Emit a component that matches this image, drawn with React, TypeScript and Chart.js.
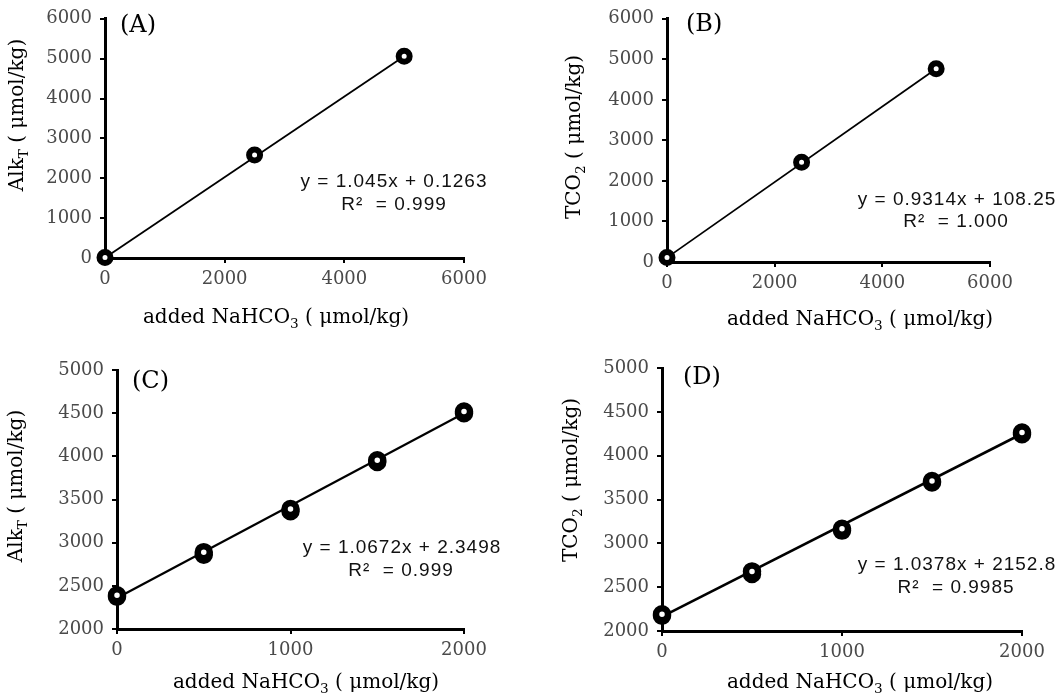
import React, { useEffect, useRef } from 'react';
import { Chart, registerables } from 'chart.js';
Chart.register(...registerables);

// ---------- DATA ----------
// Panel A: AlkT vs added NaHCO3
const xA = [0, 2500, 5000];
const yA = [15, 2585, 5060];
const trendXA = [0, 5000];
const trendYA = [5, 5060];
const eqA = 'y = 1.045x + 0.1263';
const r2A = 'R²  = 0.999';

// Panel B: TCO2 vs added NaHCO3
const xB = [0, 2500, 5000];
const yB = [110, 2460, 4765];
const trendXB = [0, 5000];
const trendYB = [108, 4765];
const eqB = 'y = 0.9314x + 108.25';
const r2B = 'R²  = 1.000';

// Panel C: AlkT vs added NaHCO3 (replicates)
const xC = [0, 0, 500, 500, 1000, 1000, 1500, 1500, 2000, 2000];
const yC = [2375, 2390, 2860, 2890, 3365, 3390, 3935, 3955, 4500, 4520];
const trendXC = [0, 2000];
const trendYC = [2360, 4500];
const eqC = 'y = 1.0672x + 2.3498';
const r2C = 'R²  = 0.999';

// Panel D: TCO2 vs added NaHCO3 (replicates)
const xD = [0, 0, 500, 500, 1000, 1000, 1500, 1500, 2000, 2000];
const yD = [2175, 2190, 2650, 2680, 3145, 3165, 3695, 3710, 4245, 4265];
const trendXD = [0, 2000];
const trendYD = [2165, 4250];
const eqD = 'y = 1.0378x + 2152.8';
const r2D = 'R²  = 0.9985';

// Tick labels
const xTicksAB = [0, 2000, 4000, 6000];
const yTicksAB = [0, 1000, 2000, 3000, 4000, 5000, 6000];
const xTicksCD = [0, 1000, 2000];
const yTicksCD = [2000, 2500, 3000, 3500, 4000, 4500, 5000];

// Text labels
const panelLabels = ['(A)', '(B)', '(C)', '(D)'];
const xTitleParts = [{ t: 'added NaHCO' }, { t: '3', sub: true }, { t: ' ( μmol/kg)' }];
const yTitleAlk = [{ t: 'Alk' }, { t: 'T', sub: true }, { t: ' ( μmol/kg)' }];
const yTitleTCO = [{ t: 'TCO' }, { t: '2', sub: true }, { t: ' ( μmol/kg)' }];

// ---------- LAYOUT (page coordinates) ----------
type Part = { t: string; sub?: boolean };
type Panel = {
  canvas: { left: number; top: number; w: number; h: number };
  area: { l: number; r: number; t: number; b: number };
  x: number[]; y: number[]; tx: number[]; ty: number[];
  xTicks: number[]; yTicks: number[];
  label: string; eq: string; r2: string; yTitle: Part[];
  pos: { yT: [number, number]; xT: [number, number]; lab: [number, number]; eq: [number, number]; r2: [number, number] };
  radius: number; pbw: number; lw: number;
};

const panels: Panel[] = [
  {
    canvas: { left: 0, top: 0, w: 525, h: 342 },
    area: { l: 105, r: 464, t: 14, b: 258 },
    x: xA, y: yA, tx: trendXA, ty: trendYA, xTicks: xTicksAB, yTicks: yTicksAB,
    label: panelLabels[0], eq: eqA, r2: r2A, yTitle: yTitleAlk,
    pos: { yT: [18, 115], xT: [276, 318], lab: [120, 26], eq: [394, 182], r2: [394, 205] },
    radius: 5.5, pbw: 6, lw: 1.8,
  },
  {
    canvas: { left: 525, top: 0, w: 535, h: 342 },
    area: { l: 667, r: 990, t: 16, b: 262 },
    x: xB, y: yB, tx: trendXB, ty: trendYB, xTicks: xTicksAB, yTicks: yTicksAB,
    label: panelLabels[1], eq: eqB, r2: r2B, yTitle: yTitleTCO,
    pos: { yT: [575, 137], xT: [860, 320], lab: [686, 25], eq: [957, 200], r2: [956, 222] },
    radius: 5.5, pbw: 6, lw: 1.8,
  },
  {
    canvas: { left: 0, top: 342, w: 525, h: 357 },
    area: { l: 117, r: 464, t: 370, b: 629 },
    x: xC, y: yC, tx: trendXC, ty: trendYC, xTicks: xTicksCD, yTicks: yTicksCD,
    label: panelLabels[2], eq: eqC, r2: r2C, yTitle: yTitleAlk,
    pos: { yT: [17, 486], xT: [306, 683], lab: [132, 382], eq: [402, 548], r2: [401, 571] },
    radius: 6, pbw: 6.5, lw: 2.2,
  },
  {
    canvas: { left: 525, top: 342, w: 535, h: 357 },
    area: { l: 662, r: 1022, t: 368, b: 631 },
    x: xD, y: yD, tx: trendXD, ty: trendYD, xTicks: xTicksCD, yTicks: yTicksCD,
    label: panelLabels[3], eq: eqD, r2: r2D, yTitle: yTitleTCO,
    pos: { yT: [572, 480], xT: [860, 683], lab: [683, 378], eq: [957, 565], r2: [956, 588] },
    radius: 6, pbw: 6.5, lw: 2.6,
  },
];

const SERIF = '"DejaVu Serif", serif';
const SANS = '"Liberation Sans", Arial, sans-serif';

function drawRich(ctx: CanvasRenderingContext2D, parts: Part[], x: number, y: number, size: number, rotate: boolean) {
  ctx.save();
  ctx.translate(x, y);
  if (rotate) ctx.rotate(-Math.PI / 2);
  ctx.textBaseline = 'middle';
  ctx.textAlign = 'left';
  ctx.fillStyle = '#000';
  const widths = parts.map((p) => {
    ctx.font = `${p.sub ? size * 0.68 : size}px ${SERIF}`;
    return ctx.measureText(p.t).width;
  });
  const total = widths.reduce((a, b) => a + b, 0);
  let cx = -total / 2;
  parts.forEach((p, i) => {
    ctx.font = `${p.sub ? size * 0.68 : size}px ${SERIF}`;
    ctx.fillText(p.t, cx, p.sub ? size * 0.32 : 0);
    cx += widths[i];
  });
  ctx.restore();
}

function PanelChart({ p }: { p: Panel }) {
  const ref = useRef<HTMLCanvasElement>(null);
  useEffect(() => {
    if (!ref.current) return;
    const ox = p.canvas.left;
    const oy = p.canvas.top;
    const textPlugin = {
      id: 'panelText',
      afterDraw(chart: any) {
        const ctx: CanvasRenderingContext2D = chart.ctx;
        drawRich(ctx, p.yTitle, p.pos.yT[0] - ox, p.pos.yT[1] - oy, 20, true);
        drawRich(ctx, xTitleParts, p.pos.xT[0] - ox, p.pos.xT[1] - oy, 20, false);
        ctx.save();
        ctx.font = `24px ${SERIF}`;
        ctx.fillStyle = '#000';
        ctx.textAlign = 'left';
        ctx.textBaseline = 'middle';
        ctx.fillText(p.label, p.pos.lab[0] - ox, p.pos.lab[1] - oy);
        ctx.restore();
        ctx.save();
        ctx.font = `19px ${SANS}`;
        (ctx as any).letterSpacing = '1px';
        ctx.fillStyle = '#111';
        ctx.textAlign = 'center';
        ctx.textBaseline = 'middle';
        ctx.fillText(p.eq, p.pos.eq[0] - ox, p.pos.eq[1] - oy);
        ctx.fillText(p.r2, p.pos.r2[0] - ox, p.pos.r2[1] - oy);
        ctx.restore();
      },
    };
    const pts = p.x.map((v, i) => ({ x: v, y: p.y[i] }));
    const line = p.tx.map((v, i) => ({ x: v, y: p.ty[i] }));
    const tickFont = { family: SERIF, size: 18 };
    const gridCfg = { display: true, drawOnChartArea: false, drawTicks: true, tickLength: 5, color: '#000', lineWidth: 2 };
    const chart = new Chart(ref.current, {
      type: 'scatter',
      data: {
        datasets: [
          {
            data: pts,
            showLine: false,
            pointRadius: p.radius,
            pointBorderWidth: p.pbw,
            pointBackgroundColor: '#fff',
            pointBorderColor: '#000',
            order: 0,
            clip: false as any,
          },
          {
            data: line,
            showLine: true,
            borderColor: '#000',
            borderWidth: p.lw,
            pointRadius: 0,
            order: 1,
            clip: false as any,
          },
        ],
      },
      options: {
        animation: false,
        responsive: false,
        events: [],
        layout: {
          padding: {
            left: 0,
            bottom: 0,
            top: p.area.t - oy,
            right: ox + p.canvas.w - p.area.r,
          },
        },
        plugins: { legend: { display: false }, tooltip: { enabled: false }, title: { display: false } },
        scales: {
          x: {
            type: 'linear',
            min: p.xTicks[0],
            max: p.xTicks[p.xTicks.length - 1],
            afterBuildTicks: (s: any) => { s.ticks = p.xTicks.map((v) => ({ value: v })); },
            afterFit: (s: any) => { s.height = oy + p.canvas.h - p.area.b; },
            ticks: { font: tickFont, color: '#4a4a4a', padding: 6, maxRotation: 0, autoSkip: false, callback: (v: any) => String(v) },
            grid: gridCfg,
            border: { display: true, color: '#000', width: 3 },
          },
          y: {
            type: 'linear',
            min: p.yTicks[0],
            max: p.yTicks[p.yTicks.length - 1],
            afterBuildTicks: (s: any) => { s.ticks = p.yTicks.map((v) => ({ value: v })); },
            afterFit: (s: any) => { s.width = p.area.l - ox; },
            ticks: { font: tickFont, color: '#4a4a4a', padding: 8, autoSkip: false, callback: (v: any) => String(v) },
            grid: gridCfg,
            border: { display: true, color: '#000', width: 3 },
          },
        },
      } as any,
      plugins: [textPlugin],
    });
    return () => chart.destroy();
  }, [p]);
  return (
    <canvas
      ref={ref}
      width={p.canvas.w}
      height={p.canvas.h}
      style={{ position: 'absolute', left: p.canvas.left, top: p.canvas.top, width: p.canvas.w, height: p.canvas.h }}
    />
  );
}

export default function App() {
  return (
    <div style={{ position: 'absolute', left: 0, top: 0, width: 1060, height: 699, background: '#fff', overflow: 'hidden' }}>
      {panels.map((p, i) => (
        <PanelChart key={i} p={p} />
      ))}
    </div>
  );
}
